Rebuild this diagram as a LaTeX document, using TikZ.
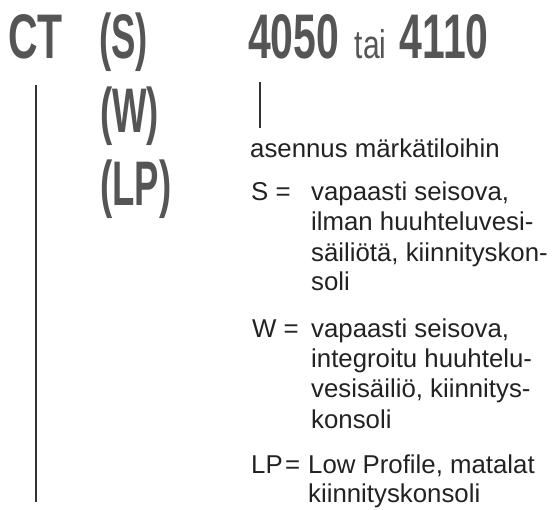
\documentclass[tikz,border=0pt]{standalone}
\usepackage{fontspec}
\setmainfont{Liberation Sans}
\newfontfamily\cndfont[FakeStretch=0.65]{Liberation Sans}
\newfontfamily\cndnarrow[FakeStretch=0.58]{Liberation Sans}
\newfontfamily\cndlight[FakeStretch=0.75]{Liberation Sans}
\usepackage{tikz}
\usetikzlibrary{positioning}
\definecolor{codegray}{HTML}{555555}
\definecolor{textblack}{HTML}{222222}
\definecolor{linegray}{HTML}{333333}

\begin{document}
\begin{tikzpicture}[x=1pt, y=-1pt,
bigcode/.style={inner sep=0pt, anchor=base west, text=codegray, font=\cndfont\bfseries\fontsize{63}{63}\selectfont},
optcode/.style={bigcode, font=\cndnarrow\bfseries\fontsize{63}{63}\selectfont},
smallcode/.style={inner sep=0pt, anchor=base west, text=codegray, font=\cndlight\fontsize{40}{40}\selectfont},
deftext/.style={inner sep=0pt, anchor=base west, text=textblack, font=\fontsize{25.8}{30}\selectfont},
stemline/.style={draw=linegray, line width=2.4pt},
]
\useasboundingbox (0,0) rectangle (557,509);

%Code
\node[bigcode]      (ct)     at (8,58)     {CT};
\node[optcode]      (sopt)   at (99,58)    {(S)};
\node[optcode]      (wopt)   at (100,132)  {(W)};
\node[optcode]      (lpopt)  at (100,205)  {(LP)};
\node[bigcode]      (num1)   at (248,58)   {4050};
\node[smallcode]    (tai)    [base right=15pt of num1] {tai};
\node[bigcode]      (num2)   [base right=13pt of tai]  {4110};

%Explanations
\node[deftext]      (mount)  at (250,157)  {asennus märkätiloihin};
\node[deftext]      (skey)   at (251,200)  {S =};
\node[deftext]      (s1)     at (311,200)  {vapaasti seisova,};
\node[deftext]      (s2)     at (311,230)  {ilman huuhteluvesi-};
\node[deftext]      (s3)     at (311,261)  {säiliötä, kiinnityskon-};
\node[deftext]      (s4)     at (311,290)  {soli};
\node[deftext]      (wkey)   at (252,337)  {W =};
\node[deftext]      (w1)     at (311,337)  {vapaasti seisova,};
\node[deftext]      (w2)     at (311,367)  {integroitu huuhtelu-};
\node[deftext]      (w3)     at (311,397)  {vesisäiliö, kiinnitys-};
\node[deftext]      (w4)     at (311,428)  {konsoli};
\node[deftext]      (lpkey)  at (251,473)  {LP\kern2.5pt=};
\node[deftext]      (lp1)    at (308,473)  {Low Profile, matalat};
\node[deftext]      (lp2)    at (308,502)  {kiinnityskonsoli};

%Lines
\coordinate (stemtop) at (36,85);
\coordinate (stembot) at (36,502);
\coordinate (ticktop) at (260,82);
\coordinate (tickbot) at (260,128);
\draw[stemline] (stemtop) -- (stembot);
\draw[stemline] (ticktop) -- (tickbot);
\end{tikzpicture}
\end{document}
